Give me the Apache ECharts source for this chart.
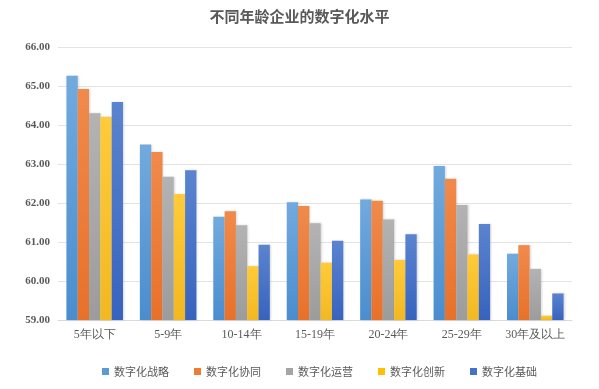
<!DOCTYPE html>
<html><head><meta charset="utf-8">
<script src="https://cdn.jsdelivr.net/npm/echarts@6/dist/echarts.min.js"></script>
<style>html,body{margin:0;padding:0;background:#fff}#c{width:599px;height:389px}</style>
</head><body><div id="c"></div>
<script>
var categories = ['5年以下','5-9年','10-14年','15-19年','20-24年','25-29年','30年及以上'];
var seriesNames = ['数字化战略','数字化协同','数字化运营','数字化创新','数字化基础'];
var strategy   = [65.26, 63.50, 61.65, 62.02, 62.09, 62.95, 60.70];
var synergy    = [64.92, 63.31, 61.79, 61.92, 62.06, 62.62, 60.92];
var operation  = [64.30, 62.67, 61.43, 61.48, 61.58, 61.95, 60.31];
var innovation = [64.21, 62.23, 60.38, 60.47, 60.54, 60.68, 59.11];
var foundation = [64.59, 62.84, 60.93, 61.03, 61.20, 61.46, 59.68];
var seriesData = [strategy, synergy, operation, innovation, foundation];
var colorsTop = ['#72aade','#f08a4b','#b3b3b3','#ffcb3a','#5a84cf'];
var colorsBot = ['#4a8dcf','#e8712a','#9c9c9c','#f2b821','#3763bf'];
var legendColors = ['#5b9bd5','#ed7d31','#a5a5a5','#ffc000','#4472c4'];

var chart = echarts.init(document.getElementById('c'));
chart.setOption({
  animation: false,
  title: {text: '不同年龄企业的数字化水平', left: 'center', top: 4,
    textStyle: {fontSize: 15, fontWeight: 'bold', color: '#595959', fontFamily: 'Noto Sans CJK SC'}},
  legend: {top: 361, left: 97, itemWidth: 7, itemHeight: 7, itemGap: 25, icon: 'rect',
    textStyle: {fontSize: 11, color: '#595959', fontFamily: 'Noto Sans CJK SC'},
    data: seriesNames.map(function(n, i){ return {name: n, itemStyle: {color: legendColors[i]}}; })},
  grid: {left: 58, right: 27, top: 47, bottom: 69},
  xAxis: {type: 'category', data: categories,
    axisLine: {lineStyle: {color: '#d9d9d9'}}, axisTick: {show: false},
    axisLabel: {interval: 0, fontSize: 12, color: '#595959', fontFamily: 'Liberation Serif', margin: 9}},
  yAxis: {type: 'value', min: 59, max: 66, interval: 1,
    axisLine: {show: false}, axisTick: {show: false},
    splitLine: {lineStyle: {color: '#e3e3e3'}},
    axisLabel: {fontSize: 11, color: '#595959', fontWeight: 'bold', fontFamily: 'Liberation Serif', margin: 8,
      formatter: function(v){ return v.toFixed(2); }}},
  series: seriesData.map(function(d, i){
    return {name: seriesNames[i], type: 'bar', data: d, barGap: '0%', barCategoryGap: '23%',
      itemStyle: {color: new echarts.graphic.LinearGradient(0,0,0,1,[{offset:0,color:colorsTop[i]},{offset:1,color:colorsBot[i]}]),
        shadowColor: 'rgba(0,0,0,0.15)', shadowBlur: 2, shadowOffsetX: 1}};
  })
});
</script></body></html>
